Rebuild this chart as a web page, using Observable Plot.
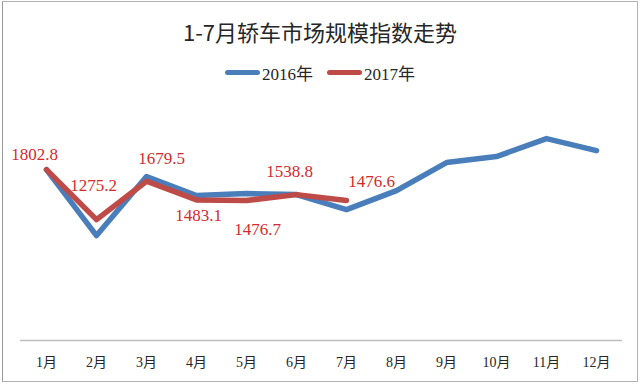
<!DOCTYPE html>
<html>
<head>
<meta charset="utf-8">
<script src="https://cdn.jsdelivr.net/npm/d3@7"></script>
<script src="https://cdn.jsdelivr.net/npm/@observablehq/plot@0.6"></script>
<style>
  html, body { margin: 0; padding: 0; background: #fff; }
  #wrap { position: relative; width: 640px; height: 385px; overflow: hidden; background: #fff; }
  #frame { position: absolute; left: 2px; top: 1px; width: 636px; height: 381px; box-sizing: border-box;
           border: 1.5px solid #b4b4b4; border-left-color: #9a9a9a; }
  #title { position: absolute; left: 0; top: 14px; width: 640px; text-align: center; line-height: 34px;
           font-family: "Noto Sans CJK SC", sans-serif; font-size: 22px; color: #262626; }
  #legend { position: absolute; left: 0; top: 61px; width: 640px; height: 22px; display: flex;
            justify-content: center; align-items: center; font-family: "Liberation Serif", "Noto Sans CJK SC", serif;
            font-size: 17px; color: #262626; }
  .item { display: flex; align-items: center; margin: 0 7px; }
  .swatch { width: 35px; height: 5px; border-radius: 2.5px; margin-right: 2px; }
  #chart { position: absolute; left: 0; top: 90px; }
</style>
</head>
<body>
<div id="wrap">
  <div id="frame"></div>
  <div id="title"></div>
  <div id="legend"></div>
  <div id="chart"></div>
</div>
<script>
const titleText = "1-7月轿车市场规模指数走势";
const months = ["1月","2月","3月","4月","5月","6月","7月","8月","9月","10月","11月","12月"];
const seriesNames = ["2016年", "2017年"];
const values2016 = [1802.8, 1107, 1729, 1529, 1550, 1539, 1381, 1581, 1877, 1940, 2130, 2003];
const values2017 = [1802.8, 1275.2, 1679.5, 1483.1, 1476.7, 1538.8, 1476.6];
const colors = ["#4a7ebb", "#be4b48"];

const rows = [];
values2016.forEach((v, i) => rows.push({month: months[i], value: v, series: seriesNames[0]}));
values2017.forEach((v, i) => rows.push({month: months[i], value: v, series: seriesNames[1]}));
const labels2017 = values2017.map((v, i) => ({month: months[i], value: v, text: v.toFixed(1)}));

// label offsets (layout), one per 2017 point
const labelOffsets = [[-12, -15], [-3, -34], [15, -23], [2, 16], [11, 29], [-7, -23], [25, -19]];

document.getElementById("title").textContent = titleText;
const legend = document.getElementById("legend");
seriesNames.forEach((name, i) => {
  const item = document.createElement("div");
  item.className = "item";
  const sw = document.createElement("span");
  sw.className = "swatch";
  sw.style.background = colors[i];
  const tx = document.createElement("span");
  tx.textContent = name;
  item.appendChild(sw);
  item.appendChild(tx);
  legend.appendChild(item);
});

const labelMarks = labels2017.map((d, i) => Plot.text([d], {
  x: "month", y: "value", text: "text",
  dx: labelOffsets[i][0], dy: labelOffsets[i][1],
  fill: "#d42a2d", fontSize: 17, fontFamily: "Liberation Serif, serif", textAnchor: "middle"
}));

const chart = Plot.plot({
  width: 640,
  height: 290,
  marginLeft: 20,
  marginRight: 18,
  marginTop: 13,
  marginBottom: 40,
  x: {type: "point", domain: months, padding: 0.5},
  y: {domain: [0, 2500], axis: null},
  color: {domain: seriesNames, range: colors},
  style: {background: "transparent"},
  marks: [
    Plot.ruleY([0], {stroke: "#bfbfbf", strokeWidth: 1.5}),
    Plot.axisX({tickSize: 0, tickPadding: 17, fontSize: 14, fontFamily: "'Liberation Serif', 'Noto Sans CJK SC', serif", fill: "#262626", label: null}),
    Plot.line(rows, {x: "month", y: "value", stroke: "series", z: "series", strokeWidth: 5.5, strokeLinejoin: "round", strokeLinecap: "round"}),
    ...labelMarks
  ]
});
document.getElementById("chart").appendChild(chart);
</script>
</body>
</html>
